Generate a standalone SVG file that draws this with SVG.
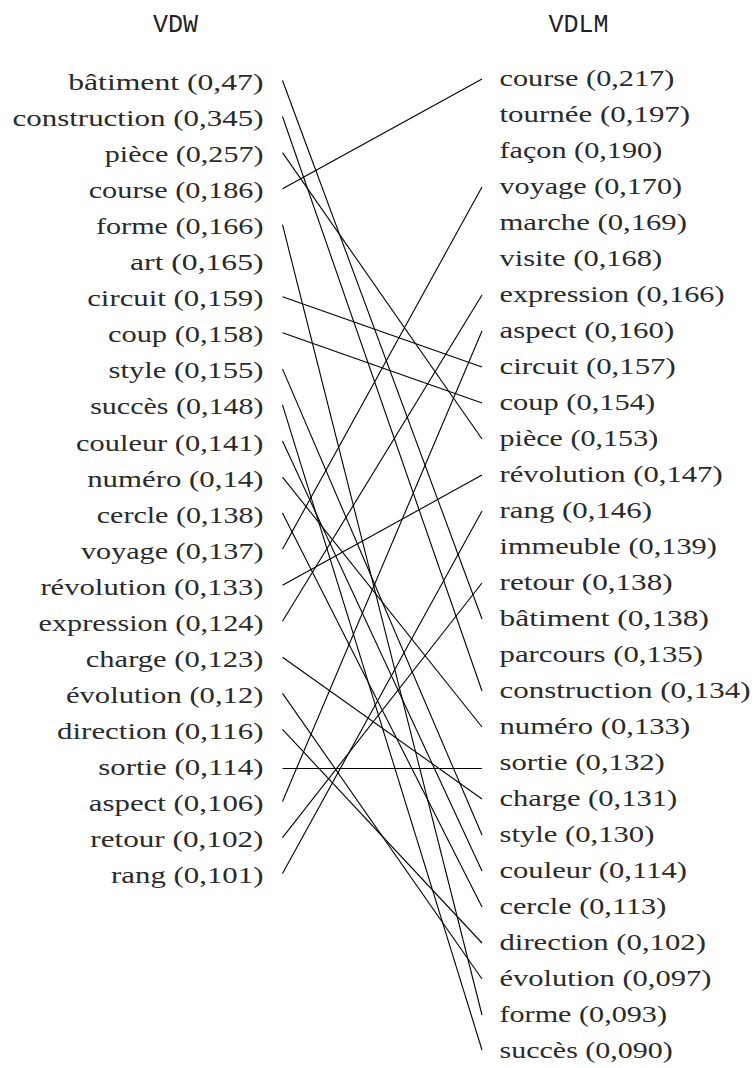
<svg xmlns="http://www.w3.org/2000/svg" width="755" height="1068" viewBox="0 0 755 1068">
<style>
.t{font-family:"Liberation Serif","Times New Roman",serif;font-size:23.5px;fill:#2a2a2a}
.l{text-anchor:end}
.h{font-family:"Liberation Mono","DejaVu Sans Mono",monospace;font-size:25px;fill:#222;text-anchor:middle}
.c line{stroke:#000;stroke-width:1.1;fill:none}
</style>
<rect width="755" height="1068" fill="#fff"/>
<g id="headers">
<text class="h" x="175.5" y="32">VDW</text>
<text class="h" x="578.5" y="32">VDLM</text>
</g>
<g id="left">
<g id="L0"><text class="t l" x="263.5" y="90" textLength="195.3" lengthAdjust="spacingAndGlyphs">bâtiment (0,47)</text></g>
<g id="L1"><text class="t l" x="263.5" y="126.05" textLength="251" lengthAdjust="spacingAndGlyphs">construction (0,345)</text></g>
<g id="L2"><text class="t l" x="263.5" y="162.1" textLength="158.7" lengthAdjust="spacingAndGlyphs">pièce (0,257)</text></g>
<g id="L3"><text class="t l" x="263.5" y="198.15" textLength="174.8" lengthAdjust="spacingAndGlyphs">course (0,186)</text></g>
<g id="L4"><text class="t l" x="263.5" y="234.2" textLength="167.5" lengthAdjust="spacingAndGlyphs">forme (0,166)</text></g>
<g id="L5"><text class="t l" x="263.5" y="270.25" textLength="133.4" lengthAdjust="spacingAndGlyphs">art (0,165)</text></g>
<g id="L6"><text class="t l" x="263.5" y="306.3" textLength="176.3" lengthAdjust="spacingAndGlyphs">circuit (0,159)</text></g>
<g id="L7"><text class="t l" x="263.5" y="342.35" textLength="155.6" lengthAdjust="spacingAndGlyphs">coup (0,158)</text></g>
<g id="L8"><text class="t l" x="263.5" y="378.4" textLength="154.9" lengthAdjust="spacingAndGlyphs">style (0,155)</text></g>
<g id="L9"><text class="t l" x="263.5" y="414.45" textLength="173.3" lengthAdjust="spacingAndGlyphs">succès (0,148)</text></g>
<g id="L10"><text class="t l" x="263.5" y="450.5" textLength="187.4" lengthAdjust="spacingAndGlyphs">couleur (0,141)</text></g>
<g id="L11"><text class="t l" x="263.5" y="486.55" textLength="176.3" lengthAdjust="spacingAndGlyphs">numéro (0,14)</text></g>
<g id="L12"><text class="t l" x="263.5" y="522.6" textLength="166.7" lengthAdjust="spacingAndGlyphs">cercle (0,138)</text></g>
<g id="L13"><text class="t l" x="263.5" y="558.65" textLength="182.5" lengthAdjust="spacingAndGlyphs">voyage (0,137)</text></g>
<g id="L14"><text class="t l" x="263.5" y="594.7" textLength="223.1" lengthAdjust="spacingAndGlyphs">révolution (0,133)</text></g>
<g id="L15"><text class="t l" x="263.5" y="630.75" textLength="225" lengthAdjust="spacingAndGlyphs">expression (0,124)</text></g>
<g id="L16"><text class="t l" x="263.5" y="666.8" textLength="177.8" lengthAdjust="spacingAndGlyphs">charge (0,123)</text></g>
<g id="L17"><text class="t l" x="263.5" y="702.85" textLength="197.6" lengthAdjust="spacingAndGlyphs">évolution (0,12)</text></g>
<g id="L18"><text class="t l" x="263.5" y="738.9" textLength="206.4" lengthAdjust="spacingAndGlyphs">direction (0,116)</text></g>
<g id="L19"><text class="t l" x="263.5" y="774.95" textLength="165.3" lengthAdjust="spacingAndGlyphs">sortie (0,114)</text></g>
<g id="L20"><text class="t l" x="263.5" y="811" textLength="174.7" lengthAdjust="spacingAndGlyphs">aspect (0,106)</text></g>
<g id="L21"><text class="t l" x="263.5" y="847.05" textLength="173.2" lengthAdjust="spacingAndGlyphs">retour (0,102)</text></g>
<g id="L22"><text class="t l" x="263.5" y="883.1" textLength="152.5" lengthAdjust="spacingAndGlyphs">rang (0,101)</text></g>
</g>
<g id="right">
<g id="R0"><text class="t" x="499.5" y="86" textLength="174.8" lengthAdjust="spacingAndGlyphs">course (0,217)</text></g>
<g id="R1"><text class="t" x="499.5" y="122" textLength="190.6" lengthAdjust="spacingAndGlyphs">tournée (0,197)</text></g>
<g id="R2"><text class="t" x="499.5" y="158" textLength="162.7" lengthAdjust="spacingAndGlyphs">façon (0,190)</text></g>
<g id="R3"><text class="t" x="499.5" y="194" textLength="182.5" lengthAdjust="spacingAndGlyphs">voyage (0,170)</text></g>
<g id="R4"><text class="t" x="499.5" y="230" textLength="187.4" lengthAdjust="spacingAndGlyphs">marche (0,169)</text></g>
<g id="R5"><text class="t" x="499.5" y="266" textLength="162.8" lengthAdjust="spacingAndGlyphs">visite (0,168)</text></g>
<g id="R6"><text class="t" x="499.5" y="302" textLength="225" lengthAdjust="spacingAndGlyphs">expression (0,166)</text></g>
<g id="R7"><text class="t" x="499.5" y="338" textLength="174.7" lengthAdjust="spacingAndGlyphs">aspect (0,160)</text></g>
<g id="R8"><text class="t" x="499.5" y="374" textLength="176.3" lengthAdjust="spacingAndGlyphs">circuit (0,157)</text></g>
<g id="R9"><text class="t" x="499.5" y="410" textLength="155.6" lengthAdjust="spacingAndGlyphs">coup (0,154)</text></g>
<g id="R10"><text class="t" x="499.5" y="446" textLength="158.7" lengthAdjust="spacingAndGlyphs">pièce (0,153)</text></g>
<g id="R11"><text class="t" x="499.5" y="482" textLength="223.1" lengthAdjust="spacingAndGlyphs">révolution (0,147)</text></g>
<g id="R12"><text class="t" x="499.5" y="518" textLength="152.5" lengthAdjust="spacingAndGlyphs">rang (0,146)</text></g>
<g id="R13"><text class="t" x="499.5" y="554" textLength="217.4" lengthAdjust="spacingAndGlyphs">immeuble (0,139)</text></g>
<g id="R14"><text class="t" x="499.5" y="590" textLength="173.2" lengthAdjust="spacingAndGlyphs">retour (0,138)</text></g>
<g id="R15"><text class="t" x="499.5" y="626" textLength="209.5" lengthAdjust="spacingAndGlyphs">bâtiment (0,138)</text></g>
<g id="R16"><text class="t" x="499.5" y="662" textLength="203.5" lengthAdjust="spacingAndGlyphs">parcours (0,135)</text></g>
<g id="R17"><text class="t" x="499.5" y="698" textLength="251" lengthAdjust="spacingAndGlyphs">construction (0,134)</text></g>
<g id="R18"><text class="t" x="499.5" y="734" textLength="190.6" lengthAdjust="spacingAndGlyphs">numéro (0,133)</text></g>
<g id="R19"><text class="t" x="499.5" y="770" textLength="165.3" lengthAdjust="spacingAndGlyphs">sortie (0,132)</text></g>
<g id="R20"><text class="t" x="499.5" y="806" textLength="177.8" lengthAdjust="spacingAndGlyphs">charge (0,131)</text></g>
<g id="R21"><text class="t" x="499.5" y="842" textLength="154.9" lengthAdjust="spacingAndGlyphs">style (0,130)</text></g>
<g id="R22"><text class="t" x="499.5" y="878" textLength="187.4" lengthAdjust="spacingAndGlyphs">couleur (0,114)</text></g>
<g id="R23"><text class="t" x="499.5" y="914" textLength="166.7" lengthAdjust="spacingAndGlyphs">cercle (0,113)</text></g>
<g id="R24"><text class="t" x="499.5" y="950" textLength="206.4" lengthAdjust="spacingAndGlyphs">direction (0,102)</text></g>
<g id="R25"><text class="t" x="499.5" y="986" textLength="211.9" lengthAdjust="spacingAndGlyphs">évolution (0,097)</text></g>
<g id="R26"><text class="t" x="499.5" y="1022" textLength="167.5" lengthAdjust="spacingAndGlyphs">forme (0,093)</text></g>
<g id="R27"><text class="t" x="499.5" y="1058" textLength="173.3" lengthAdjust="spacingAndGlyphs">succès (0,090)</text></g>
</g>
<g id="connectors" class="c">
<line x1="282.5" y1="80.5" x2="482" y2="619"/>
<line x1="282.5" y1="116.55" x2="482" y2="691"/>
<line x1="282.5" y1="152.6" x2="482" y2="439"/>
<line x1="282.5" y1="188.65" x2="482" y2="79"/>
<line x1="282.5" y1="224.7" x2="482" y2="1015"/>
<line x1="282.5" y1="296.8" x2="482" y2="367"/>
<line x1="282.5" y1="332.85" x2="482" y2="403"/>
<line x1="282.5" y1="368.9" x2="482" y2="835"/>
<line x1="282.5" y1="404.95" x2="482" y2="1050"/>
<line x1="282.5" y1="441" x2="482" y2="871"/>
<line x1="282.5" y1="477.05" x2="482" y2="727"/>
<line x1="282.5" y1="513.1" x2="482" y2="907"/>
<line x1="282.5" y1="549.15" x2="482" y2="187"/>
<line x1="282.5" y1="585.2" x2="482" y2="475"/>
<line x1="282.5" y1="621.25" x2="482" y2="295"/>
<line x1="282.5" y1="657.3" x2="482" y2="799"/>
<line x1="282.5" y1="693.35" x2="482" y2="979"/>
<line x1="282.5" y1="729.4" x2="482" y2="943"/>
<line x1="282.5" y1="768.5" x2="482" y2="768.5"/>
<line x1="282.5" y1="801.5" x2="482" y2="331"/>
<line x1="282.5" y1="837.55" x2="482" y2="583"/>
<line x1="282.5" y1="873.6" x2="482" y2="511"/>
</g>
</svg>
